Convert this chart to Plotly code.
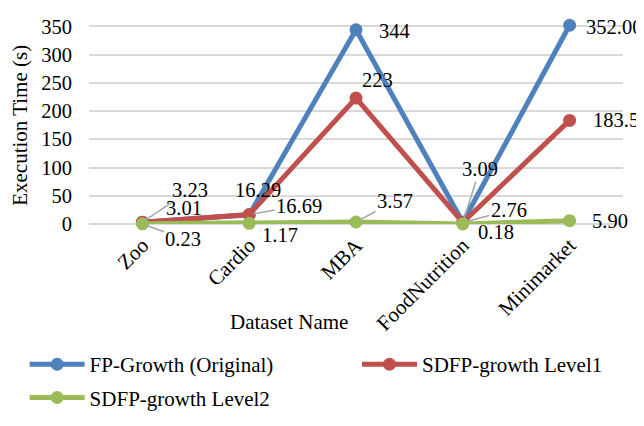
import plotly.graph_objects as go

# ---- data ----
categories = ["Zoo", "Cardio", "MBA", "FoodNutrition", "Minimarket"]
fp_growth = [3.23, 16.29, 344, 3.09, 352.00]
sdfp_level1 = [3.01, 16.69, 223, 2.76, 183.5]
sdfp_level2 = [0.23, 1.17, 3.57, 0.18, 5.90]
fp_labels = ["3.23", "16.29", "344", "3.09", "352.00"]
l1_labels = ["3.01", "16.69", "223", "2.76", "183.5"]
l2_labels = ["0.23", "1.17", "3.57", "0.18", "5.90"]
y_ticks = [0, 50, 100, 150, 200, 250, 300, 350]
series_names = ["FP-Growth (Original)", "SDFP-growth Level1", "SDFP-growth Level2"]

# ---- style ----
colors = ["#4f81bd", "#c0504d", "#9bbb59"]
FONT = "'Times New Roman', 'Liberation Serif', 'DejaVu Serif', serif"
# label offsets in px (dx, dy) and whether a leader line is drawn
fp_off = [(48, -32, True), (9, -25, False), (38, 1, False), (17, -53, True), (44, 2, False)]
l1_off = [(42, -14, False), (50, -9, True), (21, -18, False), (46, -12, True), (46, 0, False)]
l2_off = [(41, 15, True), (31, 12, False), (39, -21, True), (33, 8, False), (40, 0, False)]

# the page body adds an 8px margin; lay the figure out in page pixels
OFF = 8
W, H = 644 - OFF, 426 - OFF
Y_MAX = 356
PX_PER_UNIT = 208 / 350

plot_left_page, plot_right_page, zero_page = 88.5, 623.5, 227
plot_l = plot_left_page - OFF
plot_r = W - (plot_right_page - OFF)
plot_b = H - (zero_page - OFF)
plot_h = Y_MAX * PX_PER_UNIT
plot_t = H - plot_b - plot_h
plot_w = W - plot_l - plot_r


def px_x(p):
    return (p - OFF - plot_l) / plot_w


def px_y(p):
    return (H - plot_b - (p - OFF)) / plot_h


fig = go.Figure()
all_values = [fp_growth, sdfp_level1, sdfp_level2]
legends = ["legend", "legend2", "legend3"]
for name, vals, col, lg in zip(series_names, all_values, colors, legends):
    fig.add_trace(go.Scatter(
        x=categories, y=vals, name=name, mode="lines+markers",
        line=dict(color=col, width=5),
        marker=dict(color=col, size=13),
        cliponaxis=False, legend=lg,
    ))

annotations = []
for vals, labels, offs in [(fp_growth, fp_labels, fp_off),
                           (sdfp_level1, l1_labels, l1_off),
                           (sdfp_level2, l2_labels, l2_off)]:
    for c, v, t, (dx, dy, leader) in zip(categories, vals, labels, offs):
        annotations.append(dict(
            x=c, y=v, xref="x", yref="y", text=t, showarrow=True,
            ax=dx, ay=dy, arrowhead=0, arrowwidth=1.5, standoff=4,
            arrowcolor="#a6a6a6" if leader else "rgba(0,0,0,0)",
            font=dict(family=FONT, size=20.5, color="#000000"),
        ))

# axis titles
annotations.append(dict(
    text="Execution Time (s)", xref="paper", yref="paper",
    x=px_x(20), y=px_y(123), textangle=-90, showarrow=False,
    xanchor="center", yanchor="middle",
    font=dict(family=FONT, size=21, color="#000000"),
))
annotations.append(dict(
    text="Dataset Name", xref="paper", yref="paper",
    x=px_x(289), y=px_y(330), showarrow=False,
    xanchor="center", yanchor="middle",
    font=dict(family=FONT, size=21, color="#000000"),
))


def leg(line_start_px, ypx):
    return dict(
        x=px_x(line_start_px - 5), y=px_y(ypx),
        xanchor="left", yanchor="middle", orientation="v",
        bgcolor="rgba(0,0,0,0)", borderwidth=0, itemwidth=55,
        font=dict(family=FONT, size=21, color="#000000"),
    )


fig.update_layout(
    width=W, height=H,
    margin=dict(l=plot_l, r=plot_r, t=plot_t, b=plot_b, pad=0),
    paper_bgcolor="white", plot_bgcolor="white",
    font=dict(family=FONT, size=20.5, color="#000000"),
    showlegend=True,
    legend=leg(29, 375), legend2=leg(362, 375), legend3=leg(29, 410),
    annotations=annotations,
    xaxis=dict(
        type="category", range=[-0.5, 4.5], tickangle=-45,
        showgrid=False, showline=False, ticks="", zeroline=False,
        ticklabelstandoff=4,
        tickfont=dict(family=FONT, size=21, color="#000000"),
    ),
    yaxis=dict(
        range=[0, Y_MAX], tickvals=y_ticks, showgrid=True, gridcolor="#d9d9d9",
        gridwidth=1.5, zeroline=True, zerolinecolor="#d9d9d9", zerolinewidth=1.5,
        ticks="", ticklabelstandoff=16, ticklabeloverflow="allow",
        tickfont=dict(family=FONT, size=20.5, color="#000000"),
    ),
)

fig.write_html("out.html")
